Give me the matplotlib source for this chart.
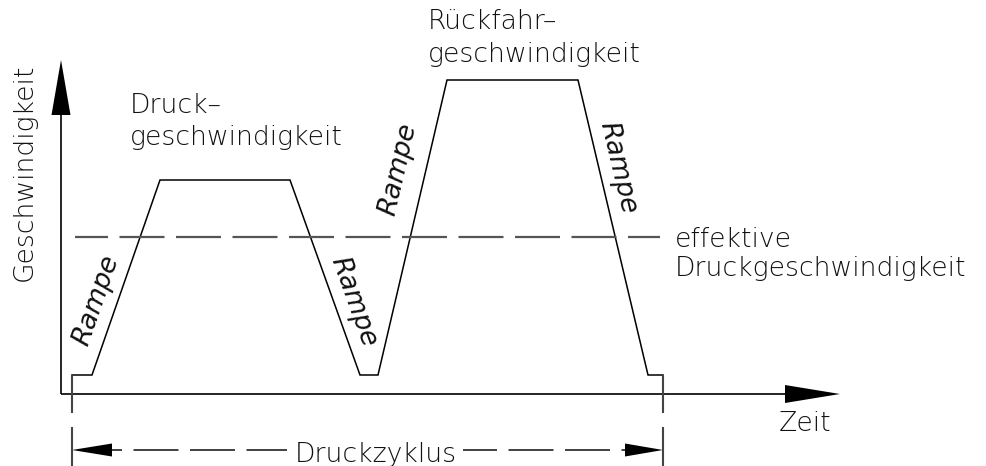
import math
import matplotlib
matplotlib.use("Agg")
import matplotlib.pyplot as plt
from matplotlib.patches import Polygon

plt.rcParams["lines.scale_dashes"] = False
plt.rcParams["font.family"] = ["DejaVu Sans"]

# ---------------- data (drawing units: time t, speed v) ----------------
cycle_time = [11, 31, 99, 229, 299, 317, 386, 517, 587, 602]
cycle_speed = [19, 19, 214, 214, 19, 19, 314, 314, 19, 19]
effective_speed = 157
effective_span = [14, 599]
cycle_start, cycle_end = 11, 602

axis_t_max = 779      # tip of time axis arrow
axis_v_max = 334      # tip of speed axis arrow
dim_level = -56       # level of the "Druckzyklus" dimension line

label_press = ["Druck–", "geschwindigkeit"]
label_return = ["Rückfahr–", "geschwindigkeit"]
label_eff = ["effektive", "Druckgeschwindigkeit"]
label_y = "Geschwindigkeit"
label_x = "Zeit"
label_cycle = "Druckzyklus"
label_ramp = "Rampe"
# ramp segments (index of start point in cycle_time) and label centres
ramp_segments = [1, 3, 5, 7]
ramp_label_pos = [(35, 94), (292, 92), (337, 225), (557, 226)]

# ---------------- figure ----------------
W, H, DPI = 986, 466, 100
fig = plt.figure(figsize=(W / DPI, H / DPI), dpi=DPI)
ax = fig.add_axes([0, 0, 1, 1])
ax.set_xlim(-61, W - 61)
ax.set_ylim(-(H - 394), 394)
ax.axis("off")

PX = 72.0 / DPI  # points per pixel
FS = 19.2
TXT = dict(fontsize=FS, color="#111111", fontweight=200)

# axes lines
ax.plot([0, 0], [0, axis_v_max - 50], color="black", lw=1.2, solid_capstyle="butt")
ax.plot([0, axis_t_max - 50], [0, 0], color="black", lw=1.2, solid_capstyle="butt")
ax.add_patch(Polygon([(0, axis_v_max), (-9.5, axis_v_max - 55), (9.5, axis_v_max - 55)],
                     closed=True, color="black", lw=0))
ax.add_patch(Polygon([(axis_t_max, 0), (axis_t_max - 55, 9), (axis_t_max - 55, -9)],
                     closed=True, color="black", lw=0))

# speed profile
ax.plot(cycle_time, cycle_speed, color="black", lw=1.1, solid_joinstyle="miter")

# effective speed dashed line
ax.plot(effective_span, [effective_speed] * 2, color="#555555", lw=1.6,
        linestyle=(12 * PX, (45 * PX, 11.5 * PX)))

# extension lines of cycle
base = cycle_speed[0]
for tx in (cycle_start, cycle_end):
    ax.plot([tx, tx], [base, -19], color="#444444", lw=1.5, solid_capstyle="butt")
    ax.plot([tx, tx], [-33, -(H - 394)], color="#444444", lw=1.5, solid_capstyle="butt")

# dimension line with arrows
ax.add_patch(Polygon([(cycle_start, dim_level), (cycle_start + 40, dim_level + 6.5),
                      (cycle_start + 40, dim_level - 6.5)], closed=True, color="black", lw=0))
ax.add_patch(Polygon([(cycle_end, dim_level), (cycle_end - 38, dim_level + 6.5),
                      (cycle_end - 38, dim_level - 6.5)], closed=True, color="black", lw=0))
ax.plot([cycle_start + 40, 226], [dim_level] * 2, color="#333333", lw=1.3,
        linestyle=(35 * PX, (45 * PX, 11.5 * PX)))
ax.plot([402, cycle_end - 38], [dim_level] * 2, color="#333333", lw=1.3,
        linestyle=(11 * PX, (45 * PX, 11.5 * PX)))

# texts
ax.text(69, 281, label_press[0], ha="left", va="baseline", **TXT)
ax.text(69, 249, label_press[1], ha="left", va="baseline", **TXT)
ax.text(367, 365, label_return[0], ha="left", va="baseline", **TXT)
ax.text(367, 332, label_return[1], ha="left", va="baseline", **TXT)
ax.text(614, 147, label_eff[0], ha="left", va="baseline", **TXT)
ax.text(614, 118, label_eff[1], ha="left", va="baseline", **TXT)
ax.text(718, -37, label_x, ha="left", va="baseline", **TXT)
ax.text(234, -68, label_cycle, ha="left", va="baseline", **TXT)
ax.text(-37, 222, label_y, ha="center", va="center", rotation=90, **TXT)

for i, (cx, cy) in zip(ramp_segments, ramp_label_pos):
    dx = cycle_time[i + 1] - cycle_time[i]
    dy = cycle_speed[i + 1] - cycle_speed[i]
    ang = math.degrees(math.atan2(dy, dx))
    if ang < -90:
        ang += 180
    if ang > 90:
        ang -= 180
    ax.text(cx, cy, label_ramp, ha="center", va="center", rotation=ang,
            rotation_mode="anchor", style="italic", **TXT)

fig.savefig("out.png", dpi=DPI, facecolor="white")
